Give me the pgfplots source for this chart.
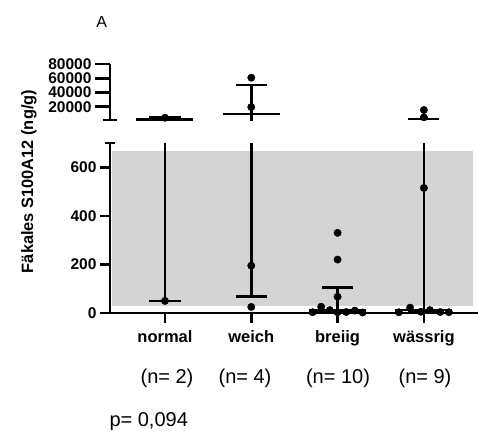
\documentclass[border=0pt]{standalone}
\usepackage{fontspec}
\setmainfont{Liberation Sans}
\usepackage{pgfplots}
\usepackage{pgfplotstable}
\pgfplotsset{compat=1.18}
\definecolor{shade}{RGB}{212,212,212}

% median lines and IQR caps per group (nan breaks the path)
\pgfplotstableread{
x y
-0.33 2275
0.33 2275
0 nan
-0.18 50
0.18 50
0 nan
-0.18 4500
0.18 4500
0 nan
0.67 9847
1.33 9847
1 nan
0.82 67.5
1.18 67.5
1 nan
0.82 50625
1.18 50625
1 nan
1.67 11
2.33 11
2 nan
1.82 3
2.18 3
2 nan
1.82 105
2.18 105
2 nan
2.67 12
3.33 12
3 nan
2.82 3.5
3.18 3.5
3 nan
2.82 2757
3.18 2757
}\hsegs

% whiskers from Q1 to Q3
\pgfplotstableread{
x y
0 50
0 4500
0 nan
1 67.5
1 50625
1 nan
2 3
2 105
2 nan
3 3.5
3 2757
}\vsegs

\pgfplotstableread{
x y
0 50
1 25
1 195
2 330
2 220
2 67
1.71 3
1.81 26
1.91 12
2.0 3
2.1 4
2.2 10
2.29 2
3 515
2.71 3
2.84 22
2.965 5
3.07 12
3.19 4
3.29 3
}\lowdots

\pgfplotstableread{
x y
0 4500
1 19500
1 61000
3 5000
3 15400
}\highdots

\pgfplotsset{
  panel/.style={
    scale only axis, width=368pt,
    xmin=-0.637, xmax=3.627,
    axis line style={line width=2.5pt, black},
    tick style={line width=2.5pt, black},
    tick align=outside,
    yticklabel style={font=\bfseries\fontsize{15.5}{16}\selectfont},
    /pgf/number format/assume math mode=true,
    /pgf/number format/1000 sep={},
    scaled y ticks=false,
    unbounded coords=jump,
  },
  seg/.style={black, line width=2.5pt, no marks},
  dot/.style={only marks, mark=*, mark size=3.7pt, black},
}

\begin{document}
\begin{tikzpicture}
\useasboundingbox (-110pt,-121pt) rectangle (368pt,313pt);

\begin{axis}[panel, at={(0,0)}, anchor=south west,
  height=170pt, ymin=0, ymax=700,
  axis x line*=bottom, axis y line*=left,
  major tick length=10pt,
  ytick={0,200,400,600},
  extra y ticks={700}, extra y tick labels={},
  extra y tick style={tick align=center},
  xtick={0,1,2,3},
  xticklabels={normal, weich, breiig, wässrig},
  xticklabel style={font=\bfseries\fontsize{16.5}{17}\selectfont, yshift=-4pt},
]
\addplot[fill=shade, draw=none] coordinates {(-0.61,30) (3.57,30) (3.57,668) (-0.61,668)} -- cycle;
\addplot[seg, restrict y to domain=0:700] table {\hsegs};
\addplot[seg] table {\vsegs};
\addplot[dot] table {\lowdots};
\end{axis}

\begin{axis}[panel, at={(0,192.8pt)}, anchor=south west,
  height=56pt, ymin=1000, ymax=80000,
  axis x line=none, axis y line*=left,
  major tick length=15pt,
  ytick={20000,40000,60000,80000},
  extra y ticks={1000}, extra y tick labels={},
  extra y tick style={tick align=center},
]
\addplot[seg, restrict y to domain=1000:80000] table {\hsegs};
\addplot[seg] table {\vsegs};
\addplot[dot] table {\highdots};
\end{axis}

\node[rotate=90, font=\bfseries\fontsize{16.4}{17}\selectfont] at (-81pt,131.5pt) {Fäkales S100A12 (ng/g)};
\node[font=\fontsize{16}{16}\selectfont] at (-8.3pt,291.3pt) {A};
\begin{scope}[every node/.style={font=\fontsize{20}{20}\selectfont}]
\node at (57pt,-65pt) {(n= 2)};
\node at (135pt,-65pt) {(n= 4)};
\node at (228pt,-65pt) {(n= 10)};
\node at (315pt,-65pt) {(n= 9)};
\node[anchor=west] at (-4pt,-108.7pt) {p= 0,094};
\end{scope}
\end{tikzpicture}
\end{document}
